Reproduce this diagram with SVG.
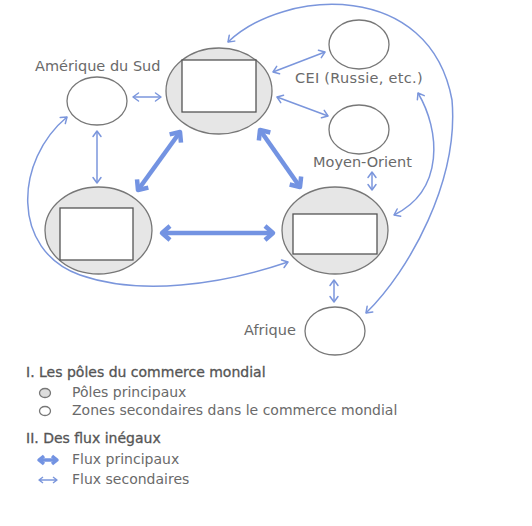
<svg xmlns="http://www.w3.org/2000/svg" width="532" height="526" viewBox="0 0 532 526">
<defs>
<style>
.main{fill:#e6e6e6;stroke:#777;stroke-width:1.3}
.sec{fill:#fff;stroke:#777;stroke-width:1.3}
.box{fill:#fff;stroke:#555;stroke-width:1.3}
.lbl{font-family:"DejaVu Sans","Liberation Sans",sans-serif;font-size:14.5px;fill:#6a6a6a}
.leg{font-family:"DejaVu Sans","Liberation Sans",sans-serif;font-size:14px;fill:#6a6a6a}
.hd{font-family:"DejaVu Sans","Liberation Sans",sans-serif;font-size:14px;fill:#555;stroke:#555;stroke-width:0.3}
.thin{fill:none;stroke:#7b96dc;stroke-width:1.5;marker-start:url(#ah);marker-end:url(#ah)}
.thick{fill:none;stroke:#7393e2;stroke-width:4.5;marker-start:url(#ahb);marker-end:url(#ahb)}
</style>
<marker id="ah" markerUnits="userSpaceOnUse" viewBox="-8 -6 10 12" refX="0" refY="0" markerWidth="10" markerHeight="12" orient="auto-start-reverse">
<path d="M -5.5 -4 L 0 0 L -5.5 4" fill="none" stroke="#7b96dc" stroke-width="1.5" stroke-linecap="round" stroke-linejoin="round"/>
</marker>
<marker id="ahb" markerUnits="userSpaceOnUse" viewBox="-12 -10 16 20" refX="0" refY="0" markerWidth="16" markerHeight="20" orient="auto-start-reverse">
<path d="M -8 -7 L 0 0 L -8 7" fill="none" stroke="#7393e2" stroke-width="4.5" stroke-linejoin="round"/>
</marker>
</defs>

<g id="connectors">
<path class="thick" d="M 180,132 L 138,190"/>
<path class="thick" d="M 260,130 L 300,187"/>
<path class="thick" d="M 162,233 L 273,233"/>
<path class="thin" d="M 133,97 L 161,97"/>
<path class="thin" d="M 97,131 L 97,183"/>
<path class="thin" d="M 273,72 L 325,52"/>
<path class="thin" d="M 277,97 L 328,116"/>
<path class="thin" d="M 372,172 L 372,190"/>
<path class="thin" d="M 334,280 L 334,302"/>
<path class="thin" d="M 228,42 C 285,-12 430,-20 452,100 C 459,180 410,270 366,313"/>
<path class="thin" d="M 418,93 C 440,130 445,190 394,215"/>
<path class="thin" d="M 67,117 C 15,160 10,250 80,275 C 140,296 220,285 288,262"/>
</g>

<g id="pole-top">
<ellipse class="main" cx="219" cy="91" rx="53" ry="43"/>
<rect class="box" x="182" y="60" width="74" height="52"/>
</g>
<g id="pole-left">
<ellipse class="main" cx="98.5" cy="230.5" rx="53.5" ry="43.5"/>
<rect class="box" x="60" y="208" width="73" height="52"/>
</g>
<g id="pole-right">
<ellipse class="main" cx="335" cy="230.5" rx="53" ry="43.5"/>
<rect class="box" x="293" y="214" width="84" height="40"/>
</g>
<g id="amerique-sud">
<ellipse class="sec" cx="97" cy="101" rx="30" ry="24"/>
<text class="lbl" x="35" y="71">Amérique du Sud</text>
</g>
<g id="cei">
<ellipse class="sec" cx="359" cy="44.5" rx="30" ry="24.5"/>
<text class="lbl" x="295" y="83" letter-spacing="0.3">CEI (Russie, etc.)</text>
</g>
<g id="moyen-orient">
<ellipse class="sec" cx="359" cy="129.5" rx="30" ry="24.5"/>
<text class="lbl" x="313" y="167">Moyen-Orient</text>
</g>
<g id="afrique">
<ellipse class="sec" cx="335" cy="331" rx="30" ry="24"/>
<text class="lbl" x="244" y="335">Afrique</text>
</g>

<g id="legend">
<text class="hd" x="26" y="377">I. Les pôles du commerce mondial</text>
<ellipse cx="45" cy="393" rx="5.5" ry="4.5" fill="#ddd" stroke="#777" stroke-width="1.3"/>
<text class="leg" x="72" y="397">Pôles principaux</text>
<ellipse cx="45" cy="411" rx="5.5" ry="4.5" fill="#fff" stroke="#777" stroke-width="1.3"/>
<text class="leg" x="72" y="415">Zones secondaires dans le commerce mondial</text>
<text class="hd" x="26" y="443">II. Des flux inégaux</text>
<path d="M 39,460 L 57,460" fill="none" stroke="#7393e2" stroke-width="3.5"/>
<path d="M 44,456 L 39,460 L 44,464 M 52,456 L 57,460 L 52,464" fill="none" stroke="#7393e2" stroke-width="3.5" stroke-linejoin="round"/>
<path d="M 39,480 L 57,480 M 43,477 L 39,480 L 43,483 M 53,477 L 57,480 L 53,483" fill="none" stroke="#7b96dc" stroke-width="1.4" stroke-linejoin="round"/>
<text class="leg" x="72" y="464">Flux principaux</text>
<text class="leg" x="72" y="484">Flux secondaires</text>
</g>
</svg>
